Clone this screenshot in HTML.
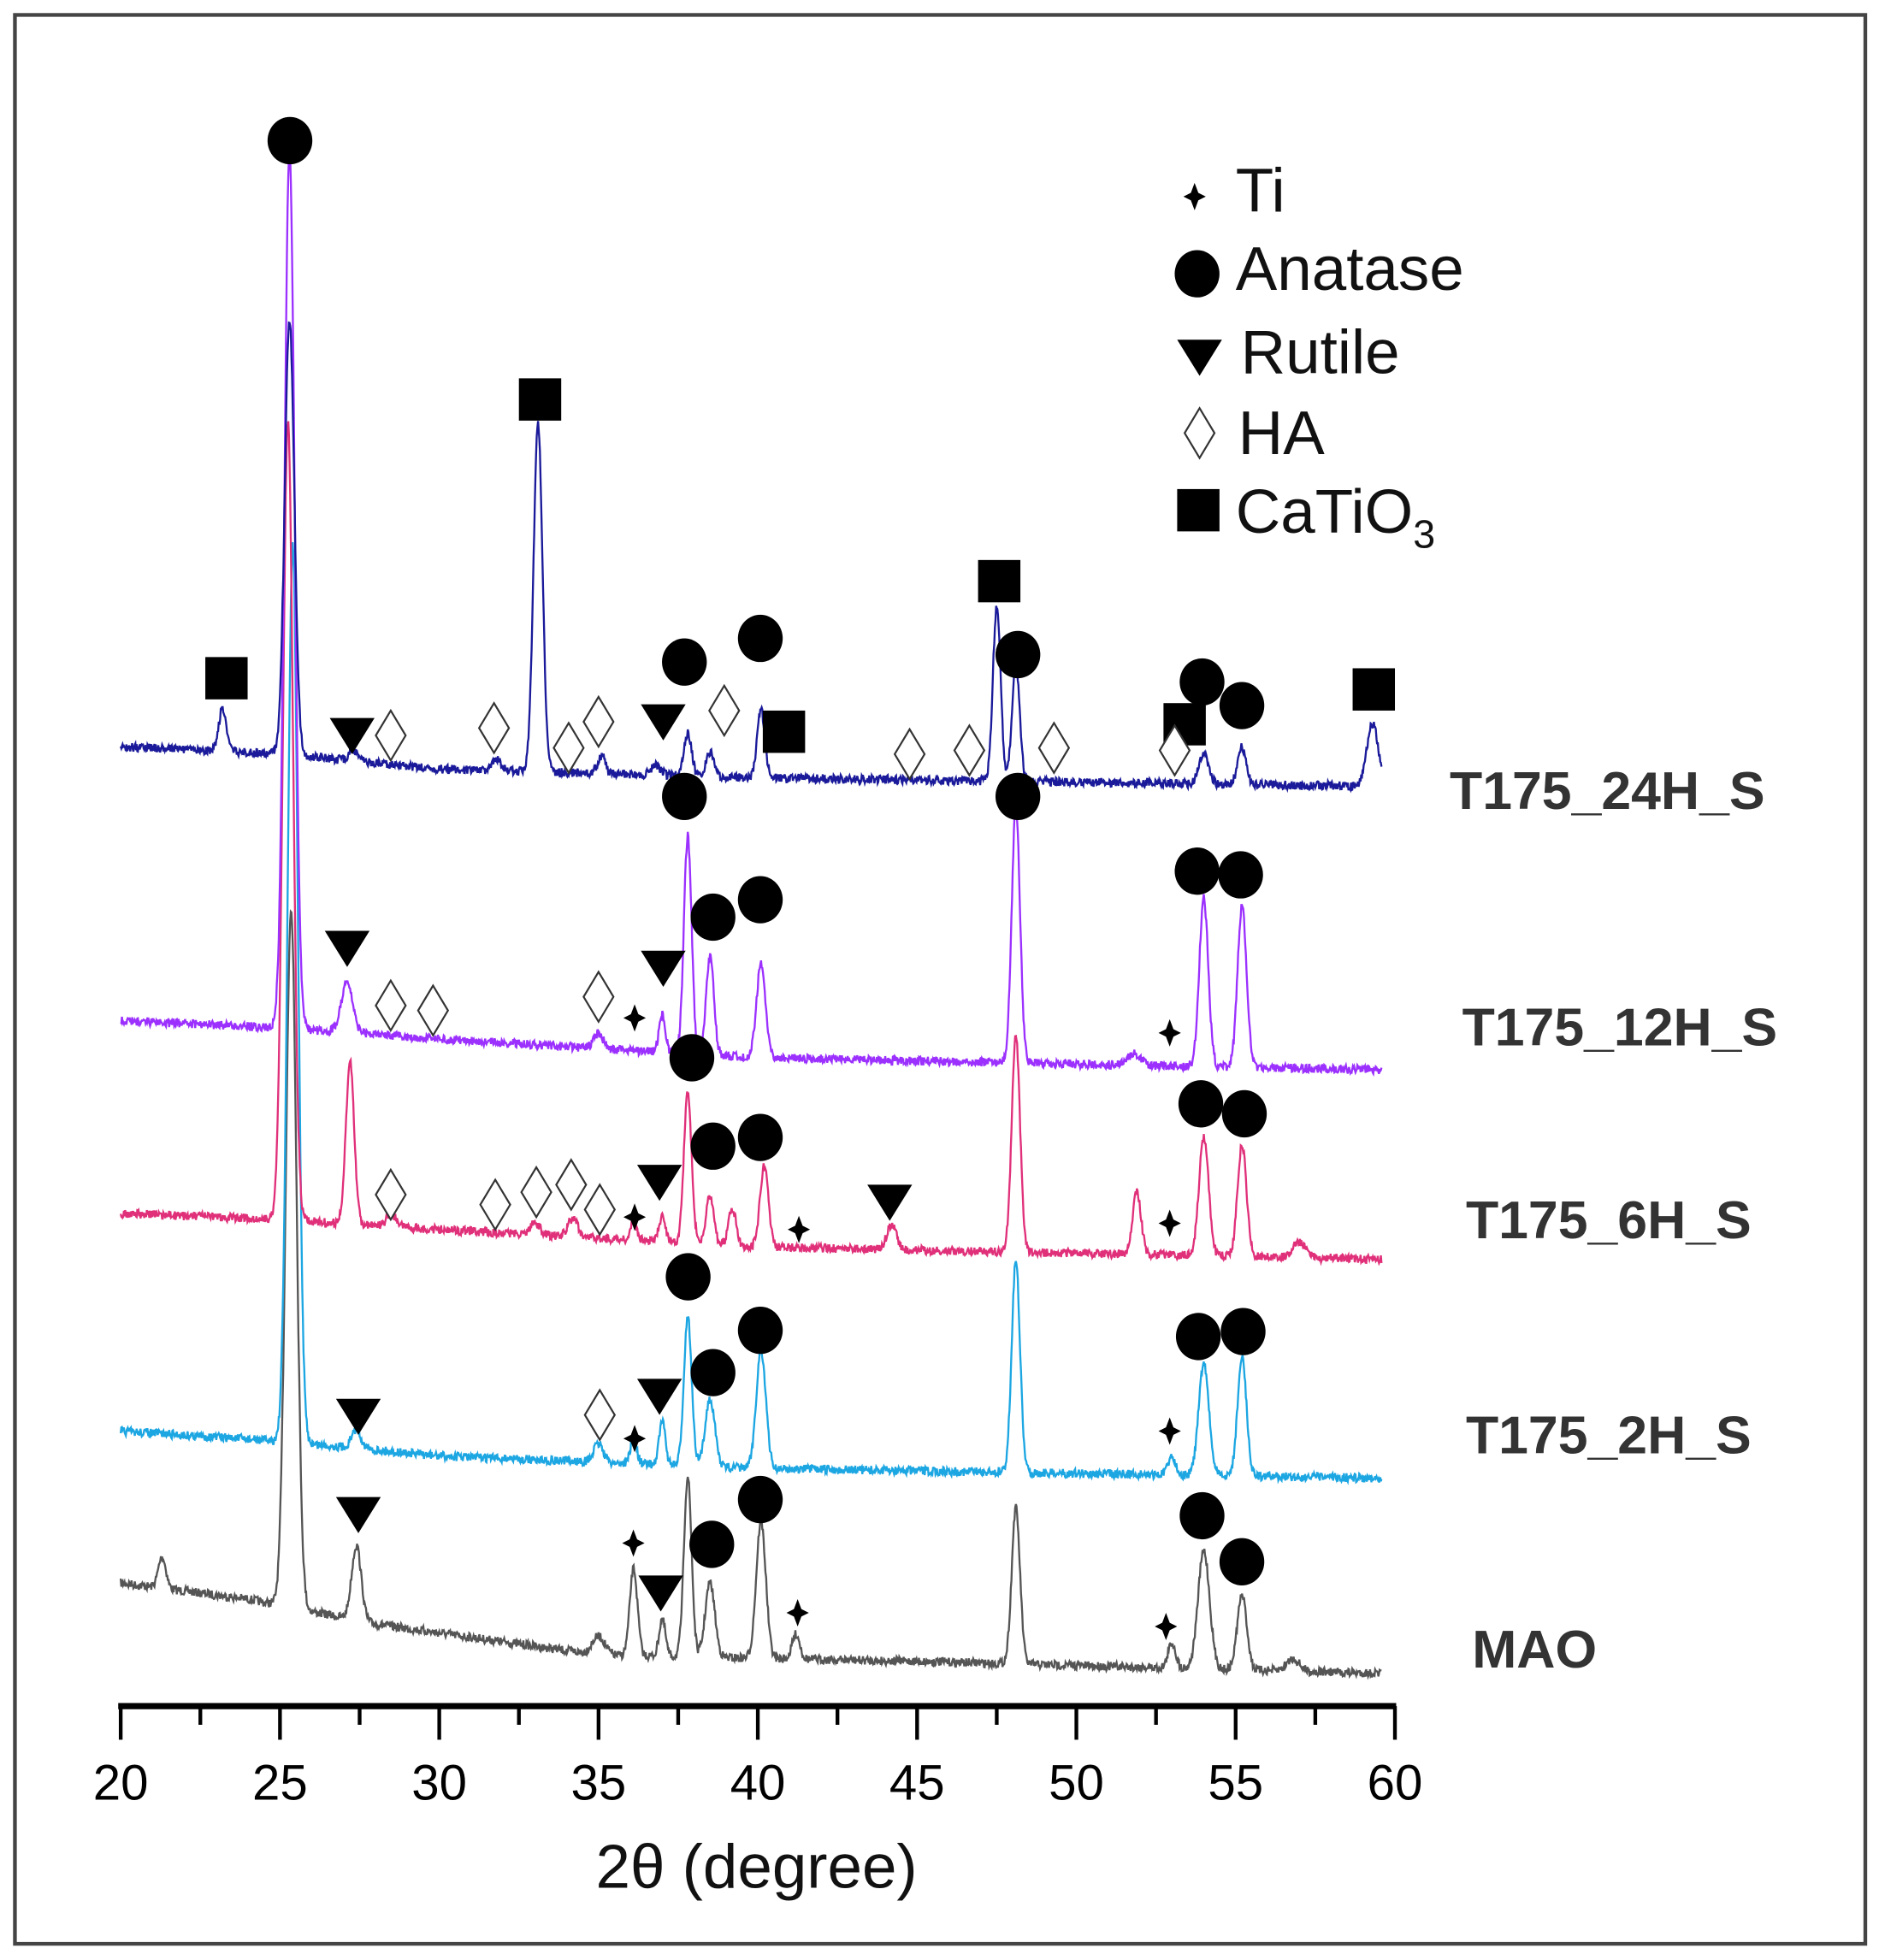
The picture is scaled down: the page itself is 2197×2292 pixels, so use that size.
<!DOCTYPE html>
<html><head><meta charset="utf-8"><style>html,body{margin:0;padding:0;background:#fff}svg{display:block}</style></head>
<body>
<svg id="s" xmlns="http://www.w3.org/2000/svg" width="2197" height="2292" viewBox="0 0 1510 1575" preserveAspectRatio="none" font-family="Liberation Sans, DejaVu Sans, sans-serif">
<rect x="0" y="0" width="1510" height="1575" fill="#fff"/>
<rect x="12" y="12" width="1487" height="1550" fill="none" stroke="#444" stroke-width="3"/>
<g id="traces"></g>
<g id="marks"></g>
<g font-size="50" fill="#111">
<text x="993" y="170">Ti</text>
<text x="993" y="233">Anatase</text>
<text x="997" y="300">Rutile</text>
<text x="995" y="365">HA</text>
<text x="993" y="428">CaTiO<tspan font-size="32" dy="12">3</tspan></text>
</g>
<g font-size="43" font-weight="bold" fill="#333">
<text x="1165" y="650">T175_24H_S</text>
<text x="1175" y="840">T175_12H_S</text>
<text x="1178" y="995">T175_6H_S</text>
<text x="1178" y="1168">T175_2H_S</text>
<text x="1183" y="1340">MAO</text>
</g>
<line x1="95" y1="1371" x2="1122" y2="1371" stroke="#000" stroke-width="5"/>
<g id="ticks" stroke="#000" stroke-width="3"></g>
<g font-size="40" fill="#000" text-anchor="middle" id="tl"></g>
<text x="608" y="1517" font-size="50" text-anchor="middle" fill="#111">2θ (degree)</text>
</svg>
<script>
var NS="http://www.w3.org/2000/svg";
function X(v){return 97+(v-20)*25.6;}
function el(t,a,p){var e=document.createElementNS(NS,t);for(var k in a)e.setAttribute(k,a[k]);p.appendChild(e);return e;}
var seed=7;function rnd(){seed=(seed*16807)%2147483647;return seed/2147483647;}
var series=[
 {c:"#555",b:[[20,1272],[24,1285],[28,1305],[35,1330],[45,1335],[60,1345]],p:[[21.3,25,0.12],[25.35,560,0.17],[27.4,60,0.15],[35,15,0.2],[36.1,70,0.12],[37,30,0.1],[37.8,145,0.12],[38.5,60,0.15],[40.1,110,0.15],[41.2,20,0.12],[48.1,125,0.13],[53,20,0.12],[54,95,0.18],[55.2,60,0.15],[56.8,10,0.2]]},
 {c:"#1ca6e2",b:[[20,1150],[25,1158],[30,1170],[40,1180],[60,1188]],p:[[25.4,720,0.16],[27.4,15,0.15],[35,15,0.15],[36.1,20,0.1],[37,35,0.1],[37.8,120,0.12],[38.5,55,0.15],[40.1,95,0.15],[48.1,170,0.13],[53,15,0.12],[54,90,0.16],[55.2,95,0.14]]},
 {c:"#e0307a",b:[[20,975],[25,980],[30,988],[40,1002],[60,1012]],p:[[25.25,640,0.16],[27.2,130,0.13],[28.5,10,0.15],[33,10,0.15],[34.2,15,0.15],[36.1,15,0.1],[37,20,0.1],[37.8,120,0.12],[38.5,40,0.12],[39.2,30,0.12],[40.2,65,0.13],[44.2,20,0.15],[48.1,175,0.13],[51.9,50,0.13],[54,95,0.15],[55.2,90,0.14],[57,12,0.2]]},
 {c:"#9b30ff",b:[[20,820],[25,826],[30,835],[40,850],[60,860]],p:[[25.3,705,0.16],[27.1,40,0.18],[35,12,0.15],[37,30,0.1],[37.8,175,0.12],[38.5,80,0.12],[40.1,75,0.14],[48.1,205,0.13],[51.8,10,0.2],[54,135,0.14],[55.2,130,0.14]]},
 {c:"#1a1a9a",b:[[20,600],[25,606],[30,618],[40,625],[60,632]],p:[[23.2,35,0.12],[25.3,350,0.15],[27.3,8,0.15],[31.8,10,0.15],[33.1,280,0.14],[35.1,15,0.12],[36.8,8,0.15],[37.8,35,0.12],[38.5,20,0.12],[40.1,55,0.12],[47.5,140,0.12],[48.1,95,0.12],[54,25,0.15],[55.2,30,0.13],[59.3,50,0.18]]}
];
function base(b,v){for(var i=0;i<b.length-1;i++){if(v<=b[i+1][0]){var t=(v-b[i][0])/(b[i+1][0]-b[i][0]);return b[i][1]+t*(b[i+1][1]-b[i][1]);}}return b[b.length-1][1];}
var tg=document.getElementById("traces");
series.forEach(function(s){var d="";for(var v=20;v<=59.6;v+=0.02){var y=base(s.b,v)+(rnd()-0.5)*7;s.p.forEach(function(p){y-=p[1]*Math.exp(-Math.pow((v-p[0])/p[2],2)/2*1.0);});d+=(d?"L":"M")+X(v).toFixed(1)+" "+y.toFixed(1);}el("path",{d:d,fill:"none",stroke:s.c,"stroke-width":1.6},tg);});
var mg=document.getElementById("marks");
function circ(x,y){el("ellipse",{cx:x,cy:y,rx:18,ry:19,fill:"#000"},mg);}
function sq(x,y){el("rect",{x:x-17,y:y-17,width:34,height:34,fill:"#000"},mg);}
function tri(x,y){el("polygon",{points:(x-18)+","+(y-14)+" "+(x+18)+","+(y-14)+" "+x+","+(y+15),fill:"#000"},mg);}
function dia(x,y){el("polygon",{points:x+","+(y-20)+" "+(x+12)+","+y+" "+x+","+(y+20)+" "+(x-12)+","+y,fill:"#fff",stroke:"#333","stroke-width":1.5},mg);}
function star(x,y){el("polygon",{points:x+","+(y-11)+" "+(x+3)+","+(y-3)+" "+(x+9)+","+y+" "+(x+3)+","+(y+3)+" "+x+","+(y+11)+" "+(x-3)+","+(y+3)+" "+(x-9)+","+y+" "+(x-3)+","+(y-3),fill:"#000"},mg);}
[[233,113],[550,532],[611,513],[818,526],[966,548],[998,567],[550,640],[818,640],[962,700],[997,703],[573,737],[611,723],[556,850],[573,921],[611,914],[965,887],[1000,895],[553,1026],[611,1069],[963,1074],[999,1070],[573,1103],[611,1205],[572,1241],[966,1218],[998,1255],[962,220]].forEach(function(p){circ(p[0],p[1]);});
[[182,545],[434,321],[630,588],[803,467],[952,582],[1104,554],[963,410]].forEach(function(p){sq(p[0],p[1]);});
[[283,591],[533,580],[279,762],[533,778],[530,950],[715,966],[288,1138],[530,1122],[288,1217],[531,1280],[964,287]].forEach(function(p){tri(p[0],p[1]);});
[[314,591],[397,585],[457,601],[481,580],[582,571],[731,606],[779,603],[847,601],[944,603],[314,808],[348,812],[481,801],[314,960],[398,968],[431,958],[459,952],[482,972],[482,1137],[964,348]].forEach(function(p){dia(p[0],p[1]);});
[[510,818],[940,830],[510,978],[642,988],[940,983],[510,1156],[940,1150],[509,1240],[641,1296],[937,1307],[960,158]].forEach(function(p){star(p[0],p[1]);});
var tk=document.getElementById("ticks"),tl=document.getElementById("tl");
for(var v=20;v<=60;v+=2.5){var maj=(v%5===0);el("line",{x1:X(v),y1:1371,x2:X(v),y2:1371+(maj?27:15)},tk);if(maj){var t=el("text",{x:X(v),y:1446},tl);t.textContent=v;}}
</script>
</body></html>
